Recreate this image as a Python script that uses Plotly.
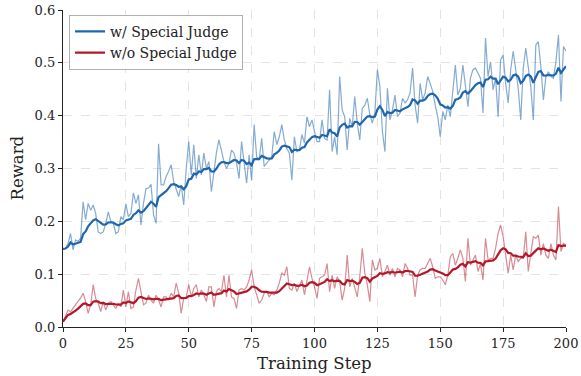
import numpy as np
import plotly.graph_objects as go

steps = list(range(0, 201))

with_judge = [
    0.148, 0.149, 0.158, 0.177, 0.146, 0.165, 0.162, 0.168, 0.237, 0.203,
    0.234, 0.221, 0.231, 0.215, 0.180, 0.177, 0.180, 0.196, 0.218, 0.200,
    0.196, 0.177, 0.180, 0.209, 0.203, 0.233, 0.209, 0.215, 0.254, 0.234,
    0.250, 0.193, 0.234, 0.262, 0.263, 0.270, 0.212, 0.196, 0.347, 0.269,
    0.269, 0.285, 0.295, 0.307, 0.275, 0.260, 0.247, 0.269, 0.231, 0.300,
    0.351, 0.288, 0.345, 0.281, 0.326, 0.288, 0.329, 0.300, 0.313, 0.256,
    0.294, 0.330, 0.354, 0.335, 0.313, 0.300, 0.310, 0.335, 0.329, 0.310,
    0.281, 0.351, 0.307, 0.272, 0.326, 0.278, 0.383, 0.322, 0.316, 0.357,
    0.304, 0.310, 0.316, 0.322, 0.370, 0.345, 0.360, 0.383, 0.354, 0.338,
    0.329, 0.278, 0.360, 0.332, 0.335, 0.364, 0.348, 0.398, 0.379, 0.392,
    0.370, 0.351, 0.351, 0.392, 0.357, 0.354, 0.449, 0.332, 0.360, 0.326,
    0.474, 0.411, 0.398, 0.335, 0.395, 0.379, 0.436, 0.386, 0.354, 0.414,
    0.420, 0.433, 0.402, 0.386, 0.405, 0.487, 0.455, 0.370, 0.332, 0.452,
    0.392, 0.411, 0.439, 0.398, 0.405, 0.433, 0.424, 0.430, 0.443, 0.490,
    0.420, 0.386, 0.461, 0.430, 0.443, 0.474, 0.461, 0.446, 0.420, 0.398,
    0.360, 0.408, 0.392, 0.420, 0.398, 0.449, 0.496, 0.439, 0.452, 0.496,
    0.461, 0.417, 0.471, 0.487, 0.490, 0.480, 0.471, 0.405, 0.547, 0.474,
    0.502, 0.449, 0.471, 0.398, 0.506, 0.515, 0.461, 0.424, 0.487, 0.522,
    0.487, 0.452, 0.392, 0.490, 0.528, 0.493, 0.455, 0.392, 0.534, 0.540,
    0.493, 0.430, 0.474, 0.483, 0.474, 0.471, 0.502, 0.553, 0.427, 0.531,
    0.522,
]

without_judge = [
    0.010, 0.023, 0.032, 0.029, 0.035, 0.042, 0.048, 0.055, 0.064, 0.048,
    0.026, 0.042, 0.080, 0.054, 0.045, 0.029, 0.048, 0.032, 0.045, 0.048,
    0.042, 0.035, 0.045, 0.038, 0.070, 0.038, 0.067, 0.035, 0.038, 0.070,
    0.092, 0.064, 0.042, 0.045, 0.060, 0.051, 0.045, 0.060, 0.051, 0.038,
    0.057, 0.057, 0.051, 0.064, 0.057, 0.083, 0.064, 0.026, 0.054, 0.057,
    0.080, 0.057, 0.073, 0.080, 0.057, 0.070, 0.061, 0.048, 0.076, 0.076,
    0.038, 0.067, 0.073, 0.067, 0.098, 0.057, 0.098, 0.057, 0.054, 0.035,
    0.070, 0.073, 0.070, 0.076, 0.089, 0.108, 0.076, 0.061, 0.045, 0.051,
    0.064, 0.067, 0.057, 0.064, 0.061, 0.070, 0.083, 0.102, 0.098, 0.114,
    0.073, 0.070, 0.083, 0.067, 0.080, 0.089, 0.061, 0.086, 0.114, 0.092,
    0.076, 0.054, 0.092, 0.095, 0.098, 0.120, 0.067, 0.098, 0.073, 0.095,
    0.086, 0.051, 0.073, 0.136, 0.076, 0.092, 0.073, 0.057, 0.095, 0.149,
    0.102, 0.080, 0.048, 0.127, 0.108, 0.111, 0.130, 0.095, 0.105, 0.117,
    0.098, 0.111, 0.095, 0.111, 0.108, 0.095, 0.120, 0.111, 0.098, 0.098,
    0.057, 0.098, 0.108, 0.111, 0.111, 0.120, 0.130, 0.114, 0.092, 0.095,
    0.095, 0.089, 0.080, 0.098, 0.133, 0.139, 0.117, 0.130, 0.146, 0.130,
    0.086, 0.168, 0.117, 0.127, 0.136, 0.105, 0.120, 0.089, 0.168, 0.127,
    0.130, 0.130, 0.149, 0.177, 0.193, 0.171, 0.136, 0.102, 0.136, 0.108,
    0.136, 0.124, 0.130, 0.130, 0.180, 0.105, 0.139, 0.171, 0.168, 0.174,
    0.136, 0.158, 0.136, 0.130, 0.158, 0.136, 0.127, 0.228, 0.143, 0.158,
    0.155,
]

series_names = ["w/ Special Judge", "w/o Special Judge"]
x_ticks = [0, 25, 50, 75, 100, 125, 150, 175, 200]
y_ticks = [0.0, 0.1, 0.2, 0.3, 0.4, 0.5, 0.6]

assert len(with_judge) == len(steps) and len(without_judge) == len(steps)


def ema(values, weight=0.85):
    out, last, num = [], 0.0, 0
    for v in values:
        num += 1
        last = last * weight + (1 - weight) * v
        out.append(last / (1 - weight ** num))
    return out


colors = ["#2166ac", "#b2182b"]
raw_colors = ["rgba(33,102,172,0.55)", "rgba(178,24,43,0.5)"]

fig = go.Figure()
for vals, name, c, rc in zip([with_judge, without_judge], series_names, colors, raw_colors):
    fig.add_trace(go.Scatter(x=steps, y=vals, mode="lines", line=dict(color=rc, width=1.2),
                             showlegend=False, hoverinfo="skip"))
for vals, name, c in zip([with_judge, without_judge], series_names, colors):
    fig.add_trace(go.Scatter(x=steps, y=ema(vals), mode="lines", name=name,
                             line=dict(color=c, width=2.2)))

font_family = "DejaVu Serif"
fig.update_layout(
    width=581, height=376,
    margin=dict(l=63, r=15, t=10, b=49, autoexpand=False),
    paper_bgcolor="white", plot_bgcolor="white",
    font=dict(family=font_family, size=13, color="#222"),
    legend=dict(x=0.012, y=0.985, xanchor="left", yanchor="top",
                bgcolor="rgba(255,255,255,0.9)", bordercolor="#b0b0b0", borderwidth=1,
                font=dict(family=font_family, size=14, color="#222"),
                tracegroupgap=0, itemwidth=30),
    annotations=[
        dict(text="Training Step", xref="paper", yref="paper", x=0.5, y=0,
             xanchor="center", yanchor="middle", yshift=-36, showarrow=False,
             font=dict(family=font_family, size=16.5, color="#222")),
        dict(text="Reward", xref="paper", yref="paper", x=0, y=0.5,
             xanchor="center", yanchor="middle", xshift=-46, textangle=-90,
             showarrow=False, font=dict(family=font_family, size=16.5, color="#222")),
    ],
)
fig.update_xaxes(
    range=[0, 200], tickvals=x_ticks, ticks="outside", ticklen=4, tickwidth=1,
    tickcolor="#222", showline=True, linecolor="#222", linewidth=1.2,
    showgrid=True, gridcolor="#e3e3e3", griddash="dash", gridwidth=0.8,
    zeroline=False, automargin=False,
)
fig.update_yaxes(
    range=[0, 0.6], tickvals=y_ticks, tickformat=".1f", ticks="outside", ticklen=4,
    tickwidth=1, tickcolor="#222", showline=True, linecolor="#222", linewidth=1.2,
    showgrid=True, gridcolor="#e3e3e3", griddash="dash", gridwidth=0.8,
    zeroline=False, automargin=False,
)

fig.write_html("out.html", config={"displayModeBar": False},
               post_script="document.body.style.margin='0';document.body.style.padding='0';")
